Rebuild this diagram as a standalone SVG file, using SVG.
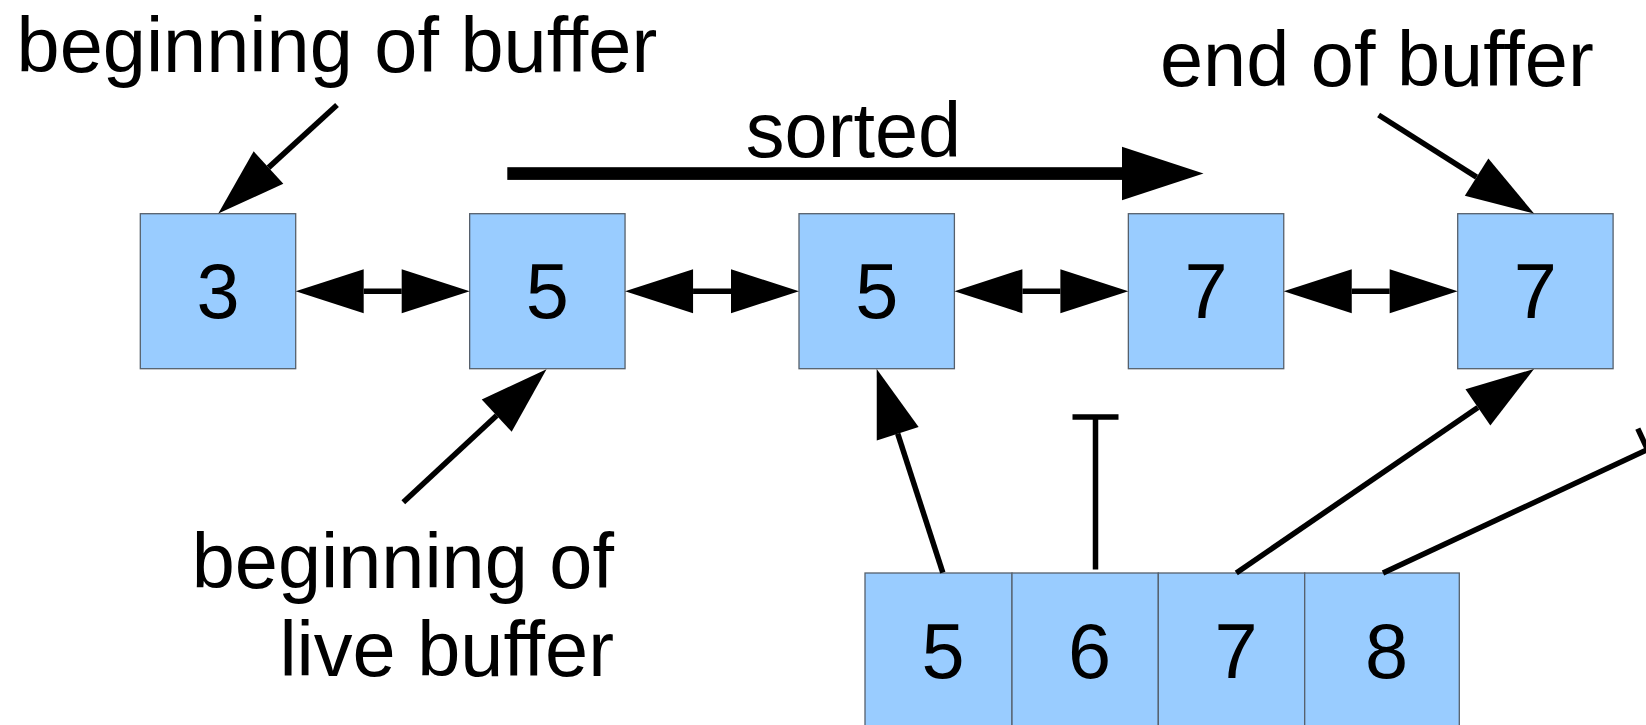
<svg xmlns="http://www.w3.org/2000/svg" width="1646" height="725" viewBox="0 0 1646 725">
<style>
.box{fill:#99ccff;stroke:#56606c;stroke-width:1.3}
.t{font-family:"Liberation Sans",Arial,sans-serif;font-size:77.5px;fill:#000}
.num{text-anchor:middle}
.ln{stroke:#000;stroke-width:5.5;fill:none}
</style>
<defs>
<marker id="ah" markerUnits="userSpaceOnUse" markerWidth="68" markerHeight="44" refX="0" refY="22" orient="auto-start-reverse" overflow="visible">
<path d="M0,0 L68,22 L0,44 Z" fill="#000"/>
</marker>
</defs>
<rect width="1646" height="725" fill="#fff"/>
<g id="label-beginning">
<text class="t" x="16.6" y="71.7">beginning of buffer</text>
</g>
<g id="label-sorted">
<text class="t" x="853.5" y="156.7" text-anchor="middle">sorted</text>
</g>
<g id="label-end">
<text class="t" x="1160" y="86">end of buffer</text>
</g>
<g id="label-live">
<text class="t" x="614" y="588.3" text-anchor="end">beginning of</text>
<text class="t" x="614" y="675.7" text-anchor="end">live buffer</text>
</g>
<g id="node-3"><rect class="box" x="140.3" y="213.7" width="155.4" height="155"/><text class="t num" x="218" y="317.5">3</text></g>
<g id="node-5a"><rect class="box" x="469.65" y="213.7" width="155.4" height="155"/><text class="t num" x="547.35" y="317.5">5</text></g>
<g id="node-5b"><rect class="box" x="799" y="213.7" width="155.4" height="155"/><text class="t num" x="876.7" y="317.5">5</text></g>
<g id="node-7a"><rect class="box" x="1128.35" y="213.7" width="155.4" height="155"/><text class="t num" x="1206.05" y="317.5">7</text></g>
<g id="node-7b"><rect class="box" x="1457.7" y="213.7" width="155.4" height="155"/><text class="t num" x="1535.4" y="317.5">7</text></g>
<g id="array">
<g id="cell-5"><rect class="box" x="865" y="573" width="147" height="155"/><text class="t num" x="943" y="677.5">5</text></g>
<g id="cell-6"><rect class="box" x="1012" y="573" width="146.3" height="155"/><text class="t num" x="1089.5" y="677.5">6</text></g>
<g id="cell-7"><rect class="box" x="1158.3" y="573" width="146.4" height="155"/><text class="t num" x="1236" y="677.5">7</text></g>
<g id="cell-8"><rect class="box" x="1304.7" y="573" width="154.6" height="155"/><text class="t num" x="1386.5" y="677.5">8</text></g>
</g>
<g id="connectors">
<!-- double arrows between list nodes -->
<line class="ln" x1="363.7" y1="291.2" x2="401.7" y2="291.2" marker-start="url(#ah)" marker-end="url(#ah)"/>
<line class="ln" x1="693.05" y1="291.2" x2="731" y2="291.2" marker-start="url(#ah)" marker-end="url(#ah)"/>
<line class="ln" x1="1022.4" y1="291.2" x2="1060.35" y2="291.2" marker-start="url(#ah)" marker-end="url(#ah)"/>
<line class="ln" x1="1351.75" y1="291.2" x2="1389.7" y2="291.2" marker-start="url(#ah)" marker-end="url(#ah)"/>
<!-- sorted arrow -->
<rect x="507.3" y="167.2" width="615" height="12.7" fill="#000"/>
<polygon points="1122,146.8 1203.5,173.5 1122,200.2" fill="#000"/>
<!-- label pointers -->
<line class="ln" x1="337" y1="105" x2="268.5" y2="167.6" marker-end="url(#ah)"/>
<line class="ln" x1="403.3" y1="502.3" x2="496.7" y2="415.6" marker-end="url(#ah)"/>
<line class="ln" x1="1378.6" y1="115" x2="1476.6" y2="177.1" marker-end="url(#ah)"/>
<!-- array pointers -->
<line class="ln" x1="942.8" y1="572.7" x2="897.7" y2="433.7" marker-end="url(#ah)"/>
<line class="ln" x1="1095.5" y1="569.5" x2="1095.5" y2="417"/>
<line class="ln" x1="1072.5" y1="417" x2="1118.5" y2="417"/>
<line class="ln" x1="1236.3" y1="573" x2="1477.9" y2="407.4" marker-end="url(#ah)"/>
<line class="ln" x1="1383" y1="573" x2="1647.5" y2="449.5"/>
<line class="ln" x1="1637.8" y1="428.7" x2="1657.2" y2="470.3"/>
</g>
</svg>
